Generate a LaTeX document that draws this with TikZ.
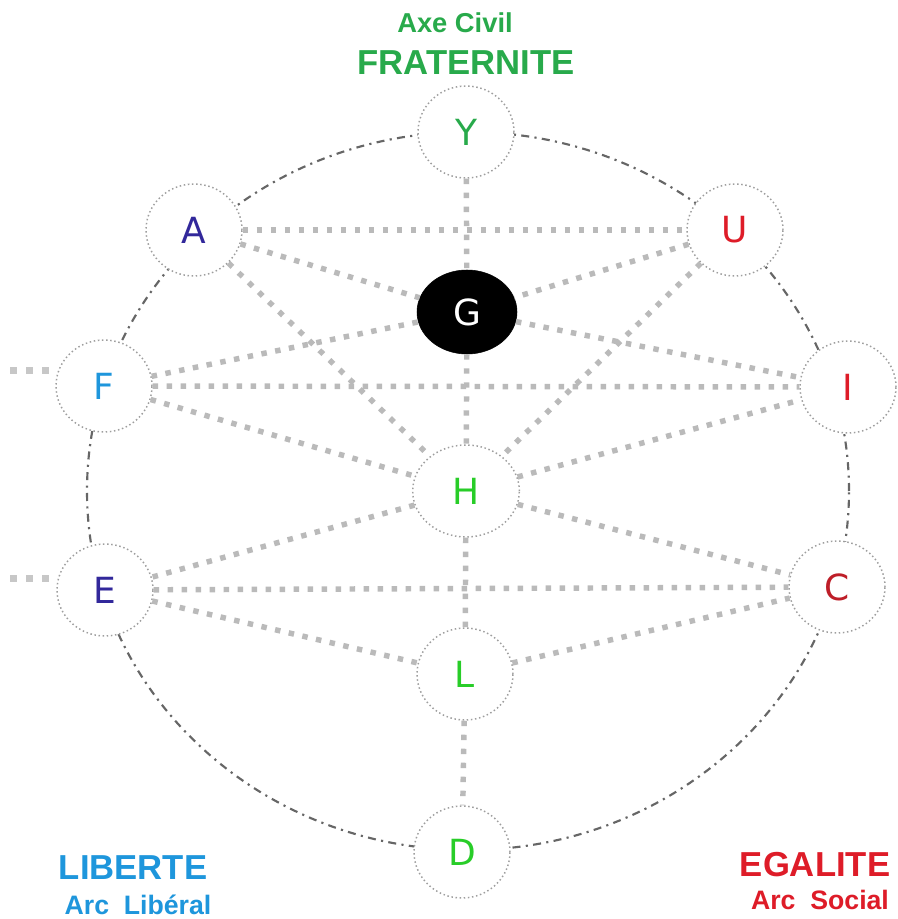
\documentclass[tikz,border=0pt]{standalone}
\usepackage{fontspec}
\setmainfont{Liberation Sans}
\newfontfamily\lettfont{DejaVu Sans}
\usetikzlibrary{shapes.geometric}
\definecolor{cgreen}{RGB}{40,170,75}
\definecolor{cbright}{RGB}{40,205,40}
\definecolor{cblue}{RGB}{30,150,220}
\definecolor{cnavy}{RGB}{50,40,155}
\definecolor{cred}{RGB}{222,28,40}
\definecolor{cdred}{RGB}{190,30,40}
\begin{document}
\begin{tikzpicture}[x=0.75pt,y=-0.75pt,
  pnode/.style={ellipse, draw=black!38, dotted, line width=1.1pt, fill=white,
    minimum width=72pt, minimum height=69pt, inner sep=0pt,
    font=\lettfont\fontsize{27}{27}\selectfont},
  gnode/.style={ellipse, draw=black, fill=black, text=white,
    minimum width=75pt, minimum height=63pt, inner sep=0pt,
    font=\lettfont\fontsize{27}{27}\selectfont},
  link/.style={draw=black!27, line width=4.1pt, dash pattern=on 4.1pt off 6.4pt},
  stub/.style={draw=black!22, line width=5.25pt, dash pattern=on 5.25pt off 6.75pt},
  ring/.style={draw=black!60, line width=1.6pt, dash pattern=on 6pt off 4pt on 1.6pt off 4pt},
  title/.style={font=\bfseries\fontsize{26}{26}\selectfont, anchor=base, inner sep=0pt},
  sub/.style={font=\bfseries\fontsize{20}{20}\selectfont, anchor=base, inner sep=0pt}
]
\useasboundingbox (0,0) rectangle (897,919);
\fill[white] (0,0) rectangle (897,919);

% outer dash-dot ring
\draw[ring] (468,491) ellipse [x radius=285.75pt, y radius=269.25pt];

% nodes
\node[pnode, text=cgreen] (Y) at (466,132) {Y};
\node[pnode, text=cnavy]  (A) at (194,230) {A};
\node[pnode, text=cred]   (U) at (735,230) {U};
\node[gnode]              (G) at (467,312) {G};
\node[pnode, text=cblue]  (F) at (104,386) {F};
\node[pnode, text=cred]   (I) at (848,387) {I};
\node[pnode, text=cbright, minimum width=80pt] (H) at (466,491) {H};
\node[pnode, text=cnavy]  (E) at (105,590) {E};
\node[pnode, text=cdred]  (C) at (837,587) {C};
\node[pnode, text=cbright] (L) at (465,674) {L};
\node[pnode, text=cbright] (D) at (462,852) {D};

% links
\draw[link] (Y) -- (G);
\draw[link] (A) -- (U);
\draw[link] (A) -- (G);
\draw[link] (A) -- (H);
\draw[link] (U) -- (G);
\draw[link] (U) -- (H);
\draw[link] (F) -- (G);
\draw[link] (F) -- (I);
\draw[link] (F) -- (H);
\draw[link] (G) -- (I);
\draw[link] (G) -- (H);
\draw[link] (H) -- (I);
\draw[link] (H) -- (E);
\draw[link] (H) -- (C);
\draw[link] (E) -- (C);
\draw[link] (E) -- (L);
\draw[link] (L) -- (C);
\draw[link] (H) -- (L);
\draw[link] (L) -- (D);

% stubs on the left
\coordinate (s1a) at (10,370);
\coordinate (s1b) at (50,370);
\coordinate (s2a) at (10,578);
\coordinate (s2b) at (50,578);
\draw[stub] (s1a) -- (s1b);
\draw[stub] (s2a) -- (s2b);

% labels
\node[sub, text=cgreen, font=\bfseries\fontsize{20.5}{20.5}\selectfont] (axe) at (455,33) {Axe Civil};
\node[title, text=cgreen] (frat) at (466,75) {FRATERNITE};
\node[title, text=cblue] (lib) at (133,879) {LIBERTE};
\node[sub, text=cblue] (arcl) at (138,914) {Arc\ \ Libéral};
\node[title, text=cred] (ega) at (815,876) {EGALITE};
\node[sub, text=cred] (arcs) at (820,909) {Arc\ \ Social};
\end{tikzpicture}
\end{document}
